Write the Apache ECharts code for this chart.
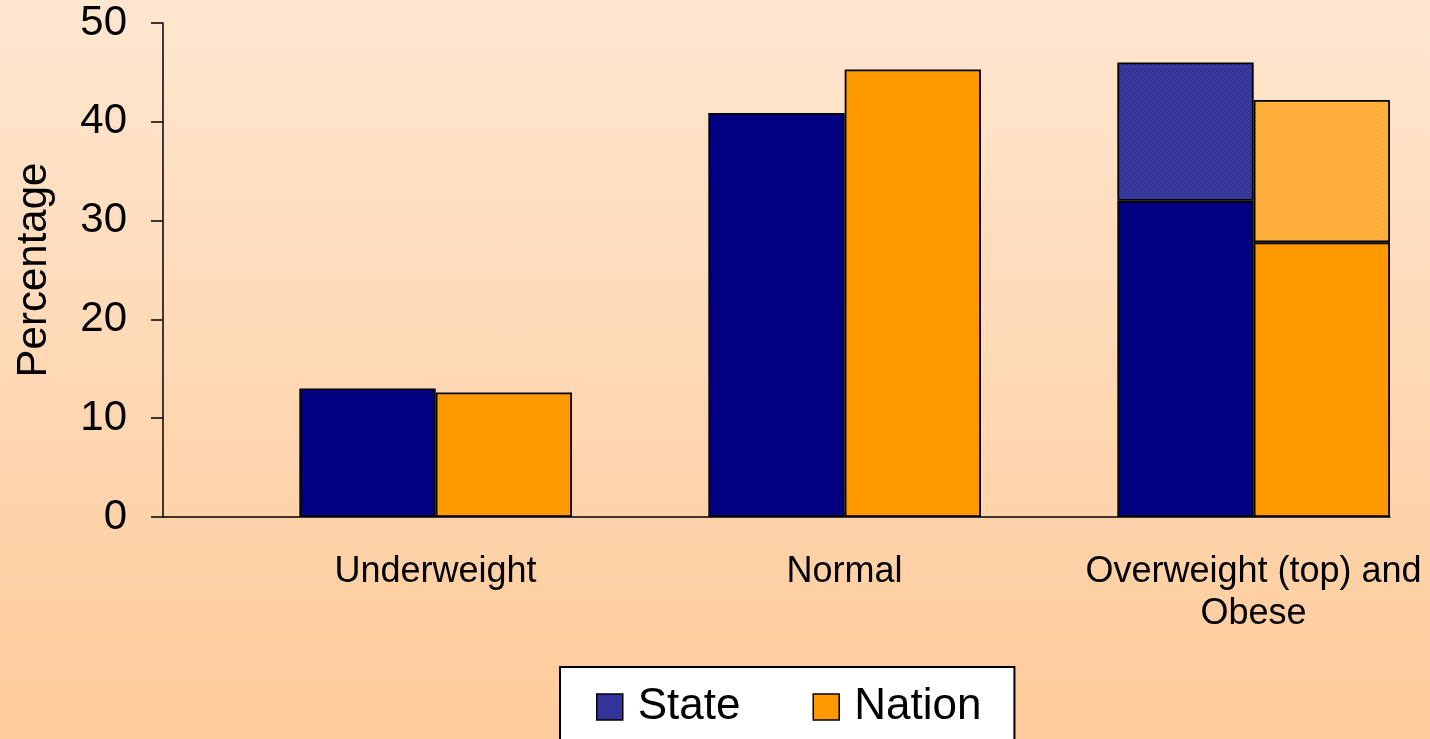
<!DOCTYPE html>
<html>
<head>
<meta charset="utf-8">
<script src="https://cdn.jsdelivr.net/npm/echarts@6/dist/echarts.min.js"></script>
<style>
  html, body { margin: 0; padding: 0; }
  body { width: 1430px; height: 739px; background: linear-gradient(to bottom, #fee6d0 0%, #fecb9a 100%); }
  #chart { width: 1430px; height: 739px; }
</style>
</head>
<body>
<div id="chart"></div>
<script>
// Weight categories along the x axis
const categories = ['Underweight', 'Normal', 'Overweight (top) and\nObese'];
// State: lower segment (underweight, normal, obese) and overweight segment on top
const stateBase = [13.0, 40.9, 32.0];
const stateTop = [null, null, 14.0];
// Nation: same split
const nationBase = [12.6, 45.3, 27.8];
const nationTop = [null, null, 14.4];
const yTicks = [0, 10, 20, 30, 40, 50];

// fine diagonal hatch used for the overweight segments
function hatch(base, stripe) {
  const c = document.createElement('canvas');
  c.width = 4; c.height = 4;
  const g = c.getContext('2d');
  g.fillStyle = base;
  g.fillRect(0, 0, 4, 4);
  g.fillStyle = stripe;
  for (let i = 0; i < 4; i++) g.fillRect(i, 3 - i, 1, 1);
  return { image: c, repeat: 'repeat' };
}

const border = { borderColor: '#000', borderWidth: 1.8 };
const chart = echarts.init(document.getElementById('chart'), null, { renderer: 'canvas' });

chart.setOption({
  backgroundColor: 'transparent',
  textStyle: { fontFamily: 'Liberation Sans, Arial, sans-serif', color: '#000' },
  grid: { left: 163, right: 40, top: 23, bottom: 222, containLabel: false },
  legend: {
    left: 560, top: 667,
    orient: 'horizontal',
    backgroundColor: '#fff',
    borderColor: '#000', borderWidth: 2,
    padding: [18, 33, 30, 36],
    itemWidth: 26, itemHeight: 26, itemGap: 72,
    icon: 'rect',
    textStyle: { fontSize: 44, color: '#000', padding: [0, 0, 0, 10] },
    selectedMode: false,
    data: [
      { name: 'State', itemStyle: { color: '#333399', borderColor: '#000', borderWidth: 1.5 } },
      { name: 'Nation', itemStyle: { color: '#ff9900', borderColor: '#000', borderWidth: 1.5 } }
    ]
  },
  xAxis: {
    type: 'category',
    data: categories,
    axisLine: { lineStyle: { color: '#000', width: 1.5 } },
    axisTick: { show: false },
    axisLabel: {
      interval: 0, fontSize: 36, color: '#000', margin: 34,
      lineHeight: 42, align: 'center', padding: [0, 0, 0, 136]
    }
  },
  yAxis: {
    type: 'value',
    min: yTicks[0], max: yTicks[yTicks.length - 1], interval: 10,
    name: 'Percentage',
    nameLocation: 'middle', nameRotate: 90, nameGap: 108,
    nameTextStyle: { fontSize: 42, color: '#000' },
    axisLine: { show: true, lineStyle: { color: '#000', width: 1.5 } },
    axisTick: { show: true, inside: false, length: 12, lineStyle: { color: '#000', width: 1.5 } },
    axisLabel: { fontSize: 42, color: '#000', margin: 36 },
    splitLine: { show: false }
  },
  series: [
    // empty slot that keeps the bar pairs to the right of each band
    { name: 'gap', type: 'bar', stack: 'gap', data: [null, null, null], barGap: '0%', barCategoryGap: '0%', silent: true },
    { name: 'State', type: 'bar', stack: 'state', data: stateBase, itemStyle: Object.assign({ color: '#000080' }, border), silent: true },
    { name: 'State overweight', type: 'bar', stack: 'state', data: stateTop, itemStyle: Object.assign({ color: hatch('#3a3aa0', '#2c2c8a') }, border), silent: true },
    { name: 'Nation', type: 'bar', stack: 'nation', data: nationBase, itemStyle: Object.assign({ color: '#ff9900' }, border), silent: true },
    { name: 'Nation overweight', type: 'bar', stack: 'nation', data: nationTop, itemStyle: Object.assign({ color: hatch('#ffb23e', '#ffa532') }, border), silent: true }
  ]
});
</script>
</body>
</html>
